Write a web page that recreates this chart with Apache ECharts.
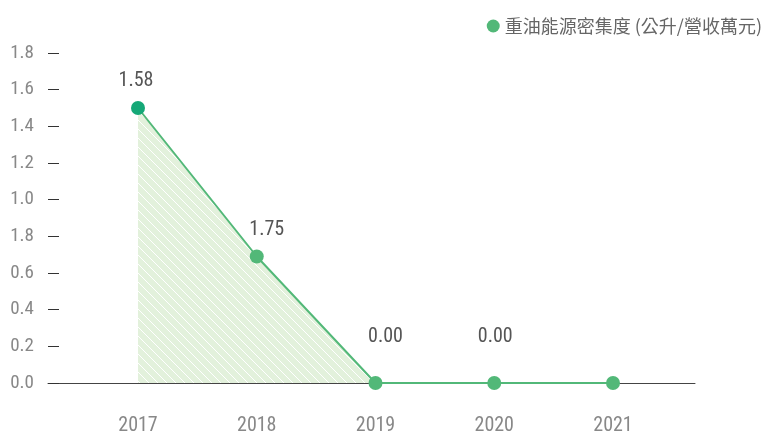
<!DOCTYPE html>
<html>
<head>
<meta charset="utf-8">
<script src="https://cdn.jsdelivr.net/npm/echarts@6/dist/echarts.min.js"></script>
<style>
  html, body { margin: 0; padding: 0; background: #fff; }
  #chart { width: 769px; height: 436px; }
</style>
</head>
<body>
<div id="chart"></div>
<script>
const years = ['2017', '2018', '2019', '2020', '2021']
const values = [1.5, 0.69, 0, 0, 0]
const valueLabels = ['1.58', '1.75', '0.00', '0.00', '']
const yTickLabels = ['0.0', '0.2', '0.4', '0.6', '1.8', '1.0', '1.2', '1.4', '1.6', '1.8']
const seriesName = '重油能源密集度 (公升/營收萬元)'

const numFont = "'Roboto Condensed', 'Liberation Sans Narrow', Roboto, sans-serif"

// label nudges, as in the source artwork
const labelShift = [-2, 10, 10, 1, 0]

// striped light green fill
const makePattern = () => {
  const c = document.createElement('canvas')
  c.width = 9
  c.height = 9
  const ctx = c.getContext('2d')
  ctx.fillStyle = '#e3f1dc'
  ctx.fillRect(0, 0, 9, 9)
  ctx.strokeStyle = '#ffffff'
  ctx.lineWidth = 1
  ctx.beginPath()
  ctx.moveTo(-1, -1)
  ctx.lineTo(10, 10)
  ctx.moveTo(-1, 8)
  ctx.lineTo(1, 10)
  ctx.moveTo(8, -1)
  ctx.lineTo(10, 1)
  ctx.stroke()
  return c
}

const chart = echarts.init(document.getElementById('chart'))

const option = {
  animation: false,
  legend: {
    right: 2,
    top: 12,
    icon: 'circle',
    itemWidth: 13,
    itemHeight: 13,
    itemGap: 9,
    textStyle: { color: '#666', fontSize: 18, fontFamily: "'Noto Sans CJK TC', sans-serif" },
    data: [seriesName]
  },
  grid: [
    { left: 48, right: 74, top: 53, bottom: 53 },
    { left: 138, right: 156, top: 53, bottom: 53 }
  ],
  xAxis: [
    {
      gridIndex: 0,
      type: 'category',
      data: years,
      axisLine: { lineStyle: { color: '#444', width: 1 } },
      axisTick: { show: false },
      axisLabel: { show: false }
    },
    {
      gridIndex: 1,
      type: 'category',
      boundaryGap: false,
      data: years,
      axisLine: { show: false },
      axisTick: { show: false },
      axisLabel: { color: '#888', fontSize: 20, fontFamily: numFont, margin: 33 }
    }
  ],
  yAxis: [
    {
      gridIndex: 0,
      type: 'value',
      min: 0,
      max: 1.8,
      interval: 0.2,
      axisLine: { show: false },
      axisTick: { show: true, inside: true, length: 11, lineStyle: { color: '#333', width: 1 } },
      splitLine: { show: false },
      axisLabel: {
        color: '#888',
        fontSize: 19,
        fontFamily: numFont,
        margin: 14,
        formatter: (v) => yTickLabels[Math.round(v / 0.2)]
      }
    },
    {
      gridIndex: 1,
      type: 'value',
      min: 0,
      max: 1.8,
      show: false
    }
  ],
  series: [
    {
      name: seriesName,
      type: 'line',
      xAxisIndex: 1,
      yAxisIndex: 1,
      color: '#52b878',
      symbol: 'circle',
      symbolSize: 14,
      lineStyle: { color: '#52b878', width: 2 },
      areaStyle: { color: { image: makePattern(), repeat: 'repeat' }, opacity: 1 },
      label: {
        show: true,
        position: 'top',
        color: '#555',
        fontSize: 20,
        fontFamily: numFont,
        formatter: (p) => valueLabels[p.dataIndex]
      },
      data: values.map((v, i) => ({
        value: v,
        itemStyle: i === 0 ? { color: '#15a877' } : undefined,
        label: { distance: v === 0 ? 29 : 10, offset: [labelShift[i], 0] }
      }))
    }
  ]
}

chart.setOption(option)
</script>
</body>
</html>
